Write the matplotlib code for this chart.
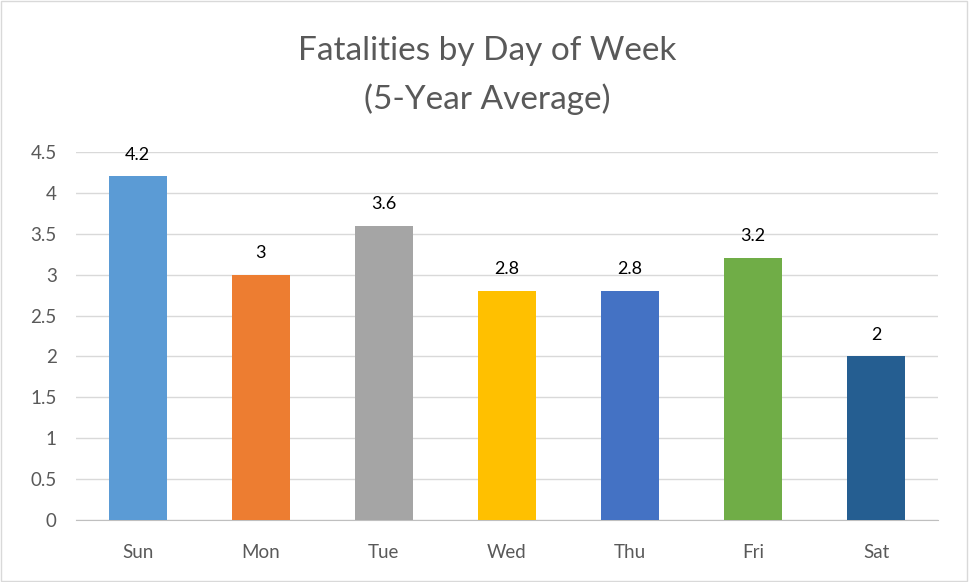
import matplotlib.pyplot as plt
from matplotlib.patches import Rectangle

plt.rcParams['font.family'] = ['Lato', 'DejaVu Sans']

days = ["Sun", "Mon", "Tue", "Wed", "Thu", "Fri", "Sat"]
fatalities = [4.2, 3, 3.6, 2.8, 2.8, 3.2, 2]
labels = ["4.2", "3", "3.6", "2.8", "2.8", "3.2", "2"]
colors = ["#5B9BD5", "#ED7D31", "#A5A5A5", "#FFC000", "#4472C4", "#70AD47", "#255E91"]

fig = plt.figure(figsize=(9.69, 5.82), dpi=100)
ax = fig.add_axes([0.0785, 0.1065, 0.889, 0.6325])

x = range(len(days))
bars = ax.bar(x, fatalities, width=0.47, color=colors, zorder=3)

for b, lab in zip(bars, labels):
    ax.annotate(lab, (b.get_x() + b.get_width() / 2, b.get_height()),
                xytext=(0, 10), textcoords="offset points",
                ha="center", va="bottom", fontsize=13, color="black")

ax.set_xlim(-0.5, len(days) - 0.5)
ax.set_ylim(0, 4.5)
ax.set_yticks([0, 0.5, 1, 1.5, 2, 2.5, 3, 3.5, 4, 4.5])
ax.set_yticklabels(["0", "0.5", "1", "1.5", "2", "2.5", "3", "3.5", "4", "4.5"])
ax.set_xticks(list(x))
ax.set_xticklabels(days)
ax.tick_params(axis="both", colors="#595959", labelsize=13.5, length=0)
ax.tick_params(axis="x", pad=17)
ax.tick_params(axis="y", pad=14)
ax.grid(axis="y", color="#D9D9D9", linewidth=1, zorder=0)
for s in ["top", "right", "left"]:
    ax.spines[s].set_visible(False)
ax.spines["bottom"].set_color("#BFBFBF")

fig.text(0.503, 0.912, "Fatalities by Day of Week", ha="center", va="center",
         fontsize=24, color="#595959")
fig.text(0.503, 0.830, "(5-Year Average)", ha="center", va="center",
         fontsize=24, color="#595959")

fig.patches.append(Rectangle((0.001, 0.002), 0.997, 0.996, transform=fig.transFigure,
                             fill=False, edgecolor="#D9D9D9", linewidth=1))

fig.savefig("out.png", dpi=100)
